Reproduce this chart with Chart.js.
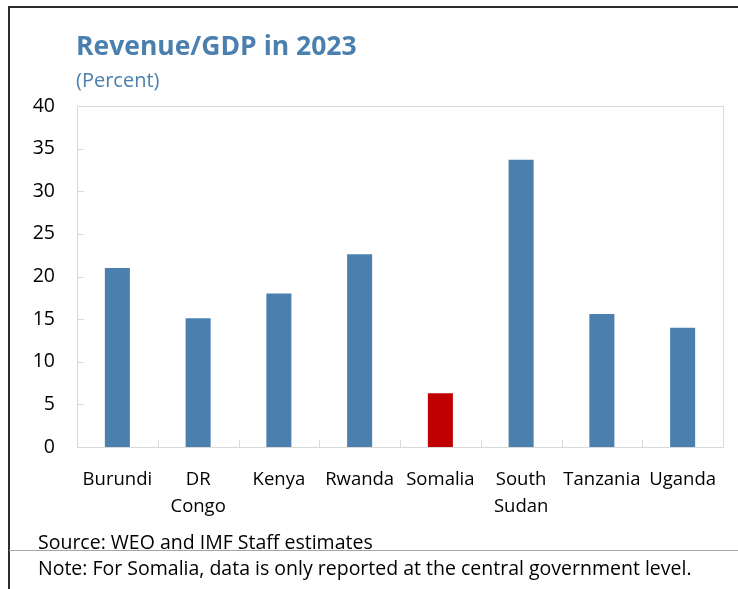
<!DOCTYPE html>
<html>
<head>
<meta charset="utf-8">
<script src="https://cdn.jsdelivr.net/npm/chart.js@4"></script>
<style>
  html, body { margin: 0; padding: 0; background: #fff; }
  #wrap { position: relative; width: 738px; height: 589px; }
</style>
</head>
<body>
<div id="wrap"><canvas id="myChart" width="738" height="589"></canvas></div>
<script>
const countries = ['Burundi', ['DR', 'Congo'], 'Kenya', 'Rwanda', 'Somalia', ['South', 'Sudan'], 'Tanzania', 'Uganda'];
const revenueGdp = [21.0, 15.1, 18.0, 22.6, 6.3, 33.7, 15.6, 14.0];
const barColors = ['#4a7fae', '#4a7fae', '#4a7fae', '#4a7fae', '#c00000', '#4a7fae', '#4a7fae', '#4a7fae'];
const yTicks = [0, 5, 10, 15, 20, 25, 30, 35, 40];

const FONT = "'Open Sans', 'Noto Sans', sans-serif";
const BLUE = '#4a7fae';

// frame, plot box, inner tick marks and the text around the chart
const decorations = {
  id: 'decorations',
  beforeDraw(chart) {
    const c = chart.ctx;
    c.save();
    c.fillStyle = '#fff';
    c.fillRect(0, 0, chart.width, chart.height);
    c.restore();
  },
  afterDraw(chart) {
    const c = chart.ctx;
    const area = chart.chartArea;
    const y = chart.scales.y;
    const x = chart.scales.x;
    c.save();

    // plot box
    c.strokeStyle = '#d9d9d9';
    c.lineWidth = 1;
    c.strokeRect(area.left + 0.5, area.top + 0.5, area.right - area.left, area.bottom - area.top);

    // y ticks pointing inward
    yTicks.forEach((v) => {
      const py = Math.round(y.getPixelForValue(v)) + 0.5;
      c.beginPath();
      c.moveTo(area.left, py);
      c.lineTo(area.left + 7, py);
      c.stroke();
    });

    // category dividers on the x axis
    for (let i = 1; i < countries.length; i++) {
      const px = Math.round((x.getPixelForValue(i - 1) + x.getPixelForValue(i)) / 2) + 0.5;
      c.beginPath();
      c.moveTo(px, area.bottom);
      c.lineTo(px, area.bottom - 7);
      c.stroke();
    }

    // outer frame
    c.strokeStyle = '#2b2b2b';
    c.lineWidth = 2;
    c.beginPath();
    c.moveTo(9, 589);
    c.lineTo(9, 7);
    c.lineTo(738, 7);
    c.stroke();
    c.strokeStyle = '#a6a6a6';
    c.lineWidth = 1;
    c.beginPath();
    c.moveTo(9, 550.5);
    c.lineTo(738, 550.5);
    c.stroke();

    // titles
    c.textBaseline = 'alphabetic';
    c.textAlign = 'left';
    c.fillStyle = BLUE;
    c.font = 'bold 26.5px ' + FONT;
    c.fillText('Revenue/GDP in 2023', 76, 55);
    c.font = '20px ' + FONT;
    c.fillText('(Percent)', 76, 87);

    // notes
    c.fillStyle = '#000';
    c.font = '19.5px ' + FONT;
    c.fillText('Source: WEO and IMF Staff estimates', 38, 549);
    c.fillText('Note: For Somalia, data is only reported at the central government level.', 38, 575);
    c.restore();
  }
};

new Chart(document.getElementById('myChart'), {
  type: 'bar',
  data: {
    labels: countries,
    datasets: [{
      data: revenueGdp,
      backgroundColor: barColors,
      barPercentage: 0.31,
      categoryPercentage: 1,
    }],
  },
  options: {
    responsive: false,
    animation: false,
    layout: { padding: { top: 106, right: 15, left: 0, bottom: 0 } },
    plugins: {
      legend: { display: false },
      tooltip: { enabled: false },
    },
    scales: {
      x: {
        grid: { display: false, drawTicks: false },
        border: { display: false },
        ticks: {
          color: '#000',
          font: { family: FONT, size: 18.5, lineHeight: 1.45 },
          padding: 19,
          maxRotation: 0,
          autoSkip: false,
        },
        afterFit: (scale) => { scale.height = 142; },
      },
      y: {
        min: 0,
        max: 40,
        grid: { display: false, drawTicks: false },
        border: { display: false },
        afterBuildTicks: (scale) => { scale.ticks = yTicks.map((v) => ({ value: v })); },
        ticks: {
          color: '#000',
          font: { family: FONT, size: 19.5 },
          padding: 22,
        },
        afterFit: (scale) => { scale.width = 77; },
      },
    },
  },
  plugins: [decorations],
});
</script>
</body>
</html>
